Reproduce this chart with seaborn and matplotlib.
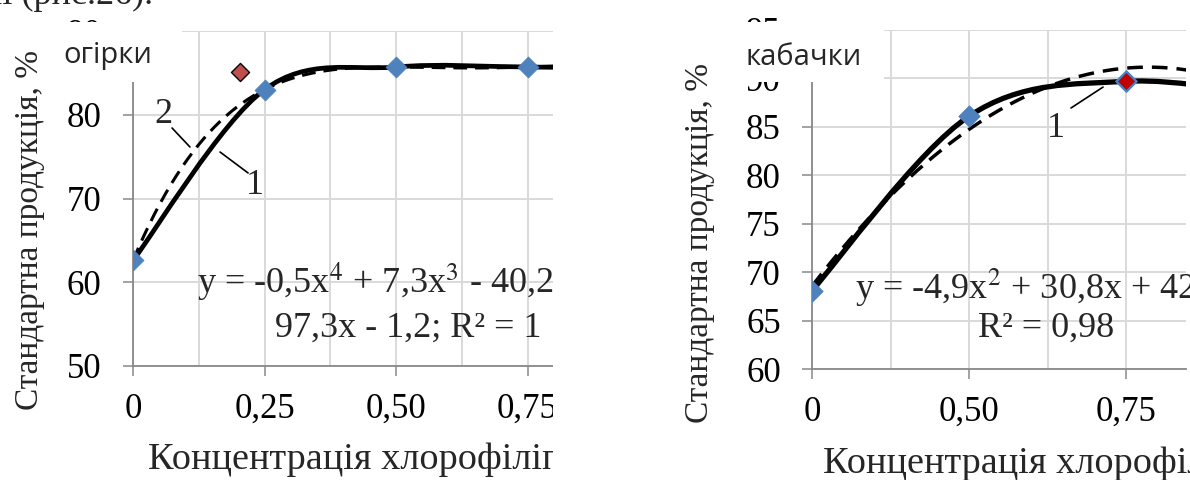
import numpy as np
import matplotlib
matplotlib.use("Agg")
import matplotlib.pyplot as plt
import seaborn as sns
from matplotlib.path import Path
from matplotlib.patches import PathPatch, Rectangle
from matplotlib.ticker import FixedLocator, NullFormatter

# ---------------- data ----------------
cuc_labels = ["0", "0,25", "0,50", "0,75", "1,00"]
cuc_values = [62.6, 83.0, 85.7, 85.7, 85.5]
cuc_opt_pos = 0.81          # red marker position (category units)
cuc_opt_value = 85.1
cuc_title = "огірки"
cuc_eq1 = "y = -0,5x$^4$ + 7,3x$^3$ - 40,2x$^2$ +"
cuc_eq2 = "97,3x - 1,2; R² = 1"

zuc_labels = ["0", "0,50", "0,75", "1,00"]
zuc_values = [68.1, 86.1, 89.7, 88.0]
zuc_opt_index = 2
zuc_title = "кабачки"
zuc_eq1 = "y = -4,9x$^2$ + 30,8x + 42,5"
zuc_eq2 = "R² = 0,98"

ylabel = "Стандартна продукція, %"
xlabel = "Концентрація хлорофіліпту, %"

# ---------------- style ----------------
sns.set_theme(style="white")
plt.rcParams["font.family"] = ["Liberation Serif", "DejaVu Serif"]
plt.rcParams["mathtext.fontset"] = "stix"
FS_TICK = 25
FS_EQ = 26
FS_XL = 27.5
FS_YL = 24
GRID = "#d9d9d9"
AXC = "#898989"
BLUE = "#4f81bd"

W, H = 1190, 480
fig = plt.figure(figsize=(W / 100, H / 100), dpi=100)
fig.patch.set_facecolor("white")


def fx(px):
    return px / W


def fy(py):
    return 1 - py / H


def excel_smooth(ax, xs, ys, **kw):
    pts = np.column_stack([xs, ys]).astype(float)
    n = len(pts)
    verts = [pts[0]]
    codes = [Path.MOVETO]
    for i in range(n - 1):
        p0 = pts[i - 1] if i > 0 else pts[i]
        p1, p2 = pts[i], pts[i + 1]
        p3 = pts[i + 2] if i + 2 < n else pts[i + 1]
        verts += [p1 + (p2 - p0) / 6, p2 - (p3 - p1) / 6, p2]
        codes += [Path.CURVE4] * 3
    ax.add_patch(PathPatch(Path(verts, codes), fill=False, **kw))


def style_axes(ax, labels, ymin, ymax, ystep, xmax):
    n = len(labels)
    ax.set_xlim(0, xmax)
    ax.set_ylim(ymin, ymax)
    ax.xaxis.set_major_locator(FixedLocator(range(n)))
    ax.set_xticklabels(labels)
    ax.xaxis.set_minor_locator(FixedLocator(np.arange(0.5, n, 1.0)))
    ax.xaxis.set_minor_formatter(NullFormatter())
    ax.set_yticks(np.arange(ymin, ymax + 0.1, ystep))
    ax.grid(True, which="both", axis="x", color=GRID, lw=1.4)
    ax.grid(True, which="major", axis="y", color=GRID, lw=1.4)
    ax.set_axisbelow(True)
    for s in ["top", "right"]:
        ax.spines[s].set_visible(False)
    for s in ["left", "bottom"]:
        ax.spines[s].set_color(AXC)
        ax.spines[s].set_linewidth(1.3)
    ax.tick_params(axis="both", which="major", direction="out", length=7.5,
                   width=1.1, color=AXC, labelsize=FS_TICK, labelcolor="black",
                   left=True, bottom=True)
    ax.tick_params(axis="y", pad=15)
    ax.tick_params(axis="x", pad=12)
    ax.tick_params(which="minor", length=0)
    ax.set_facecolor("white")


# ---------------- left: cucumbers ----------------
L_x0, L_x1, L_y0, L_y1 = 133, 556, 31, 366
axL = fig.add_axes([fx(L_x0), fy(L_y1), (L_x1 - L_x0) / W, (L_y1 - L_y0) / H])
style_axes(axL, cuc_labels, 50, 90, 10, (L_x1 - L_x0) / 131.5)

cx = np.arange(len(cuc_values))
coef = np.polyfit(cx + 1, cuc_values, 4)
xx = np.linspace(0, 3.3, 400)
sns.lineplot(x=xx, y=np.polyval(coef, xx + 1), ax=axL, color="black", lw=2.2,
             linestyle=(0, (4.5, 2.6)), sort=False, estimator=None)
excel_smooth(axL, cx, cuc_values, edgecolor="black", lw=3.4, zorder=3,
             capstyle="round", joinstyle="round")
sns.scatterplot(x=cx, y=cuc_values, ax=axL, marker="D", s=115, color=BLUE,
                edgecolor=BLUE, linewidth=0.5, zorder=5)
sns.scatterplot(x=[cuc_opt_pos], y=[cuc_opt_value], ax=axL, marker="D", s=85,
                color="#c0504d", edgecolor="black", linewidth=1.0, zorder=5)

axL.text(0.228, 80.0, "2", fontsize=FS_EQ, ha="center", va="center")
axL.annotate("", xy=(0.433, 76.15), xytext=(0.297, 78.42),
             arrowprops=dict(arrowstyle="-", lw=1.2, color="black",
                             shrinkA=0, shrinkB=0))
axL.text(0.928, 71.6, "1", fontsize=FS_EQ, ha="center", va="center")
axL.annotate("", xy=(0.662, 75.55), xytext=(0.875, 73.05),
             arrowprops=dict(arrowstyle="-", lw=1.2, color="black",
                             shrinkA=0, shrinkB=0))

fig.text(fx(197), fy(293), cuc_eq1, fontsize=FS_EQ, ha="left", va="baseline")
fig.text(fx(541), fy(337), cuc_eq2, fontsize=FS_EQ, ha="right", va="baseline")

axL.set_ylabel(ylabel, fontsize=FS_YL, rotation=90, ha="center", va="center")
axL.yaxis.set_label_coords((30 - L_x0) / (L_x1 - L_x0), (L_y1 - 230) / (L_y1 - L_y0))
axL.set_xlabel(xlabel, fontsize=FS_XL, ha="left", va="baseline")
axL.xaxis.set_label_coords((148 - L_x0) / (L_x1 - L_x0), (L_y1 - 469) / (L_y1 - L_y0))

# ---------------- right: zucchini ----------------
R_x0, R_x1, R_y0, R_y1 = 812, 1186, 30, 369
axR = fig.add_axes([fx(R_x0), fy(R_y1), (R_x1 - R_x0) / W, (R_y1 - R_y0) / H])
style_axes(axR, zuc_labels, 60, 95, 5, (R_x1 - R_x0) / 157.0)

zx = np.arange(len(zuc_values))
coef2 = np.polyfit(zx + 1, zuc_values, 2)
xx2 = np.linspace(0, 2.6, 300)
sns.lineplot(x=xx2, y=np.polyval(coef2, xx2 + 1), ax=axR, color="black", lw=2.5,
             linestyle=(0, (4.5, 2.6)), sort=False, estimator=None)
excel_smooth(axR, zx, zuc_values, edgecolor="black", lw=3.8, zorder=3,
             capstyle="round", joinstyle="round")
sns.scatterplot(x=zx, y=zuc_values, ax=axR, marker="D", s=120, color=BLUE,
                edgecolor=BLUE, linewidth=0.5, zorder=5)
sns.scatterplot(x=[zx[zuc_opt_index]], y=[zuc_values[zuc_opt_index]], ax=axR,
                marker="D", s=105, color="#c00000", edgecolor=BLUE,
                linewidth=1.6, zorder=6)

axR.text(1.554, 84.8, "1", fontsize=FS_EQ, ha="center", va="center")
axR.annotate("", xy=(1.854, 89.11), xytext=(1.650, 86.95),
             arrowprops=dict(arrowstyle="-", lw=1.2, color="black",
                             shrinkA=0, shrinkB=0))

fig.text(fx(855), fy(299), zuc_eq1, fontsize=FS_EQ, ha="left", va="baseline")
fig.text(fx(978), fy(337), zuc_eq2, fontsize=FS_EQ, ha="left", va="baseline")

axR.set_ylabel(ylabel, fontsize=FS_YL, rotation=90, ha="center", va="center")
axR.yaxis.set_label_coords((700 - R_x0) / (R_x1 - R_x0), (R_y1 - 243) / (R_y1 - R_y0))
axR.set_xlabel(xlabel, fontsize=FS_XL, ha="left", va="baseline")
axR.xaxis.set_label_coords((823 - R_x0) / (R_x1 - R_x0), (R_y1 - 473) / (R_y1 - R_y0))

# ---------------- cropping / cover boxes ----------------
def white_box(x0, y0, x1, y1, z=5):
    fig.add_artist(Rectangle((fx(x0), fy(y1)), (x1 - x0) / W, (y1 - y0) / H,
                             transform=fig.transFigure, facecolor="white",
                             edgecolor="none", zorder=z))

white_box(553, 0, 682, H)          # cropped edge of the left chart
white_box(48, 22, 182, 82)          # chart title box (left)
white_box(732, 22, 884, 82)         # chart title box (right)

fig.text(fx(63), fy(63), cuc_title, family=["Open Sans", "DejaVu Sans"],
         fontsize=21, ha="left", va="baseline", zorder=7)
fig.text(fx(746), fy(65), zuc_title, family=["Open Sans", "DejaVu Sans"],
         fontsize=21, ha="left", va="baseline", zorder=7)

# fragment of the document text above the chart
fig.text(fx(153), fy(4), "ні (рис.26).", fontsize=FS_EQ, ha="right", va="baseline")

fig.savefig("out.png", dpi=100, facecolor="white")
